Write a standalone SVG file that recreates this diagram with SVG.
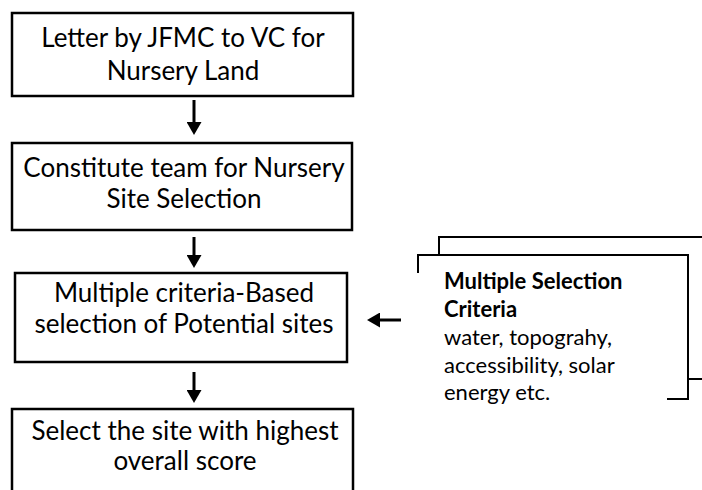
<svg xmlns="http://www.w3.org/2000/svg" width="702" height="490" viewBox="0 0 702 490">
<style>
.box{fill:#fff;stroke:#000;stroke-width:2.5}
.t{font-family:Lato,"Liberation Sans",sans-serif;font-size:26px;fill:#000;text-anchor:middle}
.s{font-family:Lato,"Liberation Sans",sans-serif;font-size:22px;fill:#000}
.b{font-weight:bold}
.edge{stroke:#000;stroke-width:3;fill:none}
.frame{stroke:#000;stroke-width:2;fill:none}
</style>
<defs>
<marker id="ah" viewBox="0 0 13 15" refX="1" refY="7.5" markerWidth="13" markerHeight="15" markerUnits="userSpaceOnUse" orient="auto">
<path d="M0,0 L13,7.5 L0,15 z" fill="#000"/>
</marker>
</defs>
<g id="n1">
<rect class="box" x="12" y="13" width="341" height="83"/>
<text class="t" x="183" y="47">Letter by JFMC to VC for</text>
<text class="t" x="183" y="80">Nursery Land</text>
</g>
<g id="n2">
<rect class="box" x="12" y="143" width="340" height="87"/>
<text class="t" x="184" y="177">Constitute team for Nursery</text>
<text class="t" x="184" y="208">Site Selection</text>
</g>
<g id="n3">
<rect class="box" x="15" y="273" width="332" height="89"/>
<text class="t" x="184" y="302">Multiple criteria-Based</text>
<text class="t" x="184" y="333">selection of Potential sites</text>
</g>
<g id="n4">
<rect class="box" x="12" y="409" width="341" height="100"/>
<text class="t" x="185" y="440">Select the site with highest</text>
<text class="t" x="185" y="470">overall score</text>
</g>
<g id="criteria">
<path class="frame" d="M439,255 V237 H704 M688,379 H704"/>
<path class="frame" d="M418,273 V255 H688 V399 H667"/>
<text class="s b" x="444" y="289">Multiple Selection</text>
<text class="s b" x="444" y="317">Criteria</text>
<text class="s" x="444" y="345">water, topograhy,</text>
<text class="s" x="444" y="373">accessibility, solar</text>
<text class="s" x="444" y="400">energy etc.</text>
</g>
<g id="connectors">
<line class="edge" x1="194" y1="100" x2="194" y2="123" marker-end="url(#ah)"/>
<line class="edge" x1="194" y1="237" x2="194" y2="256" marker-end="url(#ah)"/>
<line class="edge" x1="194" y1="372" x2="194" y2="391" marker-end="url(#ah)"/>
<line class="edge" x1="401" y1="320" x2="379" y2="320" marker-end="url(#ah)"/>
</g>
</svg>
